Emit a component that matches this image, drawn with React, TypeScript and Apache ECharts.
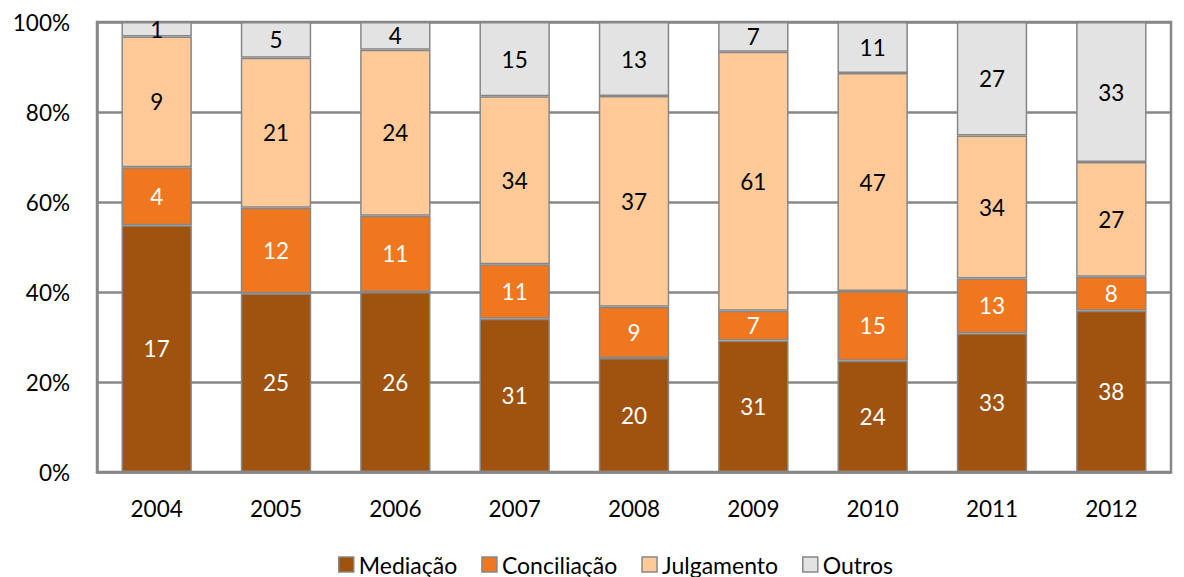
import React, { useEffect, useRef } from "react";
import * as echarts from "echarts";

// Cases per year by type of resolution
const years = ["2004", "2005", "2006", "2007", "2008", "2009", "2010", "2011", "2012"];
const mediacao = [17, 25, 26, 31, 20, 31, 24, 33, 38];
const conciliacao = [4, 12, 11, 11, 9, 7, 15, 13, 8];
const julgamento = [9, 21, 24, 34, 37, 61, 47, 34, 27];
const outros = [1, 5, 4, 15, 13, 7, 11, 27, 33];
const yTicks = [0, 20, 40, 60, 80, 100];

const seriesDefs = [
  { name: "Mediação", values: mediacao, color: "#A0520F", labelColor: "#FFFFFF" },
  { name: "Conciliação", values: conciliacao, color: "#EE7720", labelColor: "#FFFFFF" },
  { name: "Julgamento", values: julgamento, color: "#FFCA98", labelColor: "#000000" },
  { name: "Outros", values: outros, color: "#E3E3E3", labelColor: "#000000" },
];

const totals = years.map((_, i) =>
  seriesDefs.reduce((s, d) => s + d.values[i], 0)
);

const FONT = "Lato, 'Open Sans', sans-serif";
const FS = 22.5;

export default function App() {
  const ref = useRef<HTMLDivElement>(null);

  useEffect(() => {
    if (!ref.current) return;
    const chart = echarts.init(ref.current, undefined, { renderer: "svg" });
    chart.setOption({
      animation: false,
      backgroundColor: "#FFFFFF",
      textStyle: { fontFamily: FONT },
      grid: {
        left: 97,
        right: 13,
        top: 22,
        bottom: 105,
        show: true,
        borderColor: "#878787",
        borderWidth: 2.5,
        backgroundColor: "transparent",
      },
      legend: {
        bottom: -4,
        left: 333,
        itemWidth: 15,
        itemHeight: 15,
        itemGap: 24,
        icon: "rect",
        textStyle: { fontSize: 23, color: "#000000", fontFamily: FONT },
        data: seriesDefs.map((d) => ({
          name: d.name,
          itemStyle: { color: d.color, borderColor: "#878787", borderWidth: 1.5 },
        })),
      },
      xAxis: {
        type: "category",
        data: years,
        axisLine: { show: true, lineStyle: { color: "#878787", width: 2.5 } },
        axisTick: { show: false },
        axisLabel: { fontSize: FS, color: "#000000", margin: 25, fontFamily: FONT },
      },
      yAxis: {
        type: "value",
        min: 0,
        max: 100,
        interval: 20,
        axisLine: { show: true, lineStyle: { color: "#878787", width: 2.5 } },
        axisTick: { show: false },
        axisLabel: {
          fontSize: FS,
          color: "#000000",
          margin: 27,
          fontFamily: FONT,
          formatter: (v: number) => (yTicks.includes(v) ? `${v}%` : ""),
        },
        splitLine: { show: true, lineStyle: { color: "#878787", width: 2.5 } },
      },
      series: seriesDefs.map((d) => ({
        name: d.name,
        type: "bar",
        stack: "total",
        barWidth: "59%",
        itemStyle: { color: d.color, borderColor: "#878787", borderWidth: 1.5 },
        label: {
          show: true,
          position: "inside",
          color: d.labelColor,
          fontSize: FS,
          fontFamily: FONT,
          formatter: (p: any) => String(d.values[p.dataIndex]),
        },
        data: d.values.map((v, i) => (v / totals[i]) * 100),
      })),
    });
    return () => chart.dispose();
  }, []);

  return (
    <div
      ref={ref}
      style={{ position: "fixed", left: 0, top: 0, width: 1184, height: 577 }}
    />
  );
}
